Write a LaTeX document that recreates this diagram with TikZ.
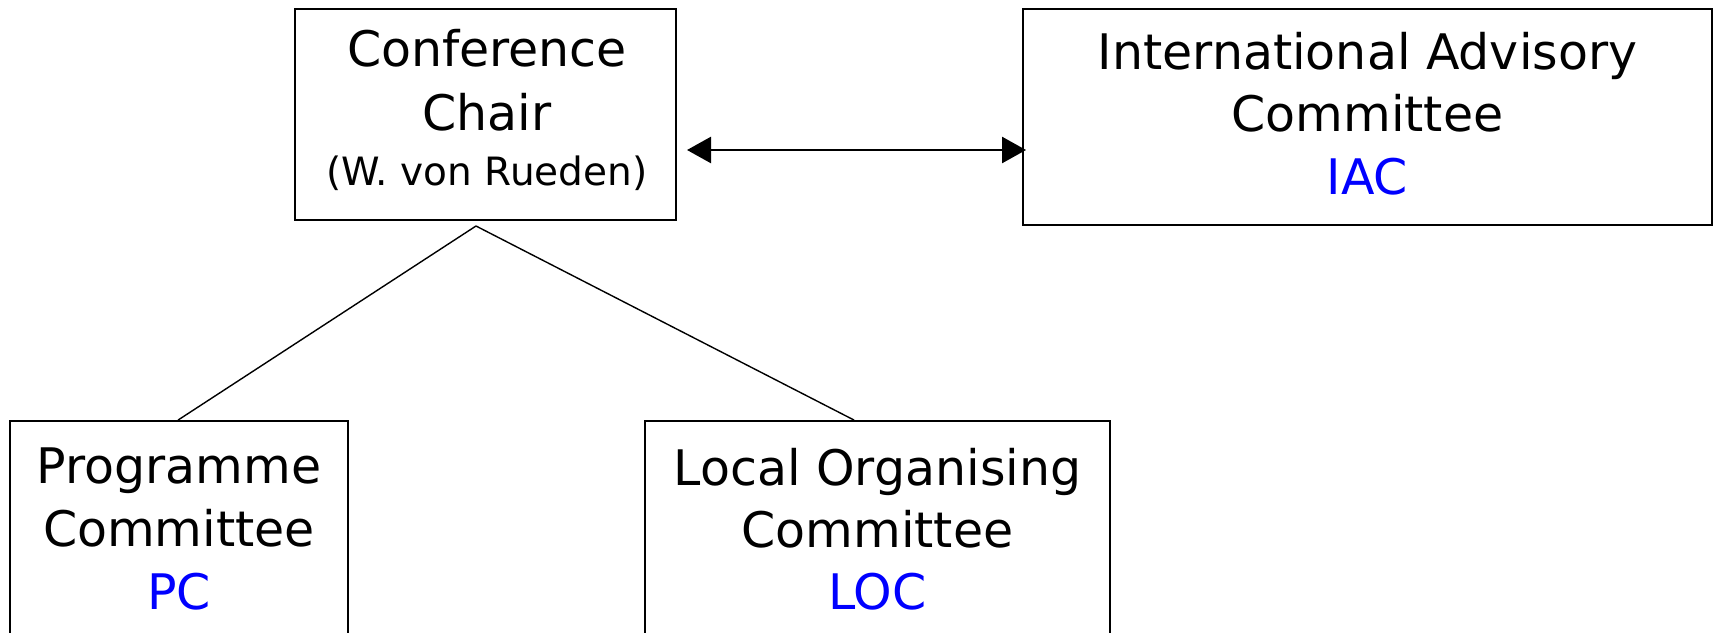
\documentclass[tikz,border=0pt]{standalone}
\usepackage{fontspec}
\setmainfont{DejaVu Sans}
\usetikzlibrary{arrows.meta}
\tikzset{
  box/.style={draw=black, line width=1.8pt, inner sep=0pt, fill=none},
  txt/.style={inner sep=0pt, anchor=base, font=\fontsize{49}{56}\selectfont},
  small/.style={inner sep=0pt, anchor=base, font=\fontsize{39}{46}\selectfont},
  acr/.style={txt, text={rgb,255:red,0;green,0;blue,255}},
  link/.style={draw=black, line width=1.4pt},
  biarrow/.style={draw=black, line width=2.6pt, {Triangle[length=24pt,width=26pt]}-{Triangle[length=24pt,width=26pt]}}
}
\begin{document}
\begin{tikzpicture}[x=1pt,y=-1pt]
\clip (0,0) rectangle (1715,632);
\useasboundingbox (0,0) rectangle (1715,632);
% boxes
\node[box, minimum width=381pt, minimum height=211pt] (chair) at (485.5,114.5) {};
\node[box, minimum width=689pt, minimum height=216pt] (iac) at (1367.5,117) {};
\node[box, minimum width=338pt, minimum height=240pt] (pc) at (179,541) {};
\node[box, minimum width=465pt, minimum height=240pt] (loc) at (877.5,541) {};
% texts
\node[txt] (t1) at (487,66) {Conference};
\node[txt] (t2) at (487,130) {Chair};
\node[small] (t3) at (487,185) {(W. von Rueden)};
\node[txt] (t4) at (1367.5,69) {International Advisory};
\node[txt] (t5) at (1367.5,131) {Committee};
\node[acr] (t6) at (1367.5,194) {IAC};
\node[txt] (t7) at (179,483) {Programme};
\node[txt] (t8) at (179,546) {Committee};
\node[acr] (t9) at (179,609) {PC};
\node[txt] (t10) at (877.5,485) {Local Organising};
\node[txt] (t11) at (877.5,547) {Committee};
\node[acr] (t12) at (877.5,609) {LOC};
% connectors
\coordinate (apex) at (476,226);
\coordinate (a1) at (687,150);
\coordinate (a2) at (1026,150);
\draw[link] (apex) -- ([xshift=-1pt]pc.north);
\draw[link] (apex) -- ([xshift=210pt]loc.north west);
\draw[biarrow] (a1) -- (a2);
\end{tikzpicture}
\end{document}
